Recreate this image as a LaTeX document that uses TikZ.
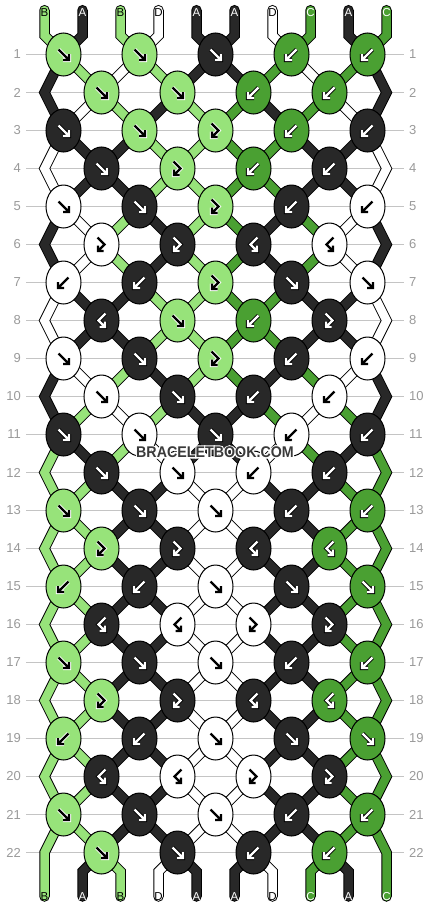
\documentclass[tikz,border=0pt]{standalone}
\usepackage{fontspec}
\setmainfont{Liberation Sans}
\usetikzlibrary{shapes.geometric}
\definecolor{cA}{HTML}{282828}
\definecolor{cB}{HTML}{97E37A}
\definecolor{cC}{HTML}{4AA032}
\definecolor{cD}{HTML}{FFFFFF}
\colorlet{fgA}{white}\colorlet{fgB}{black}\colorlet{fgC}{white}\colorlet{fgD}{black}
\colorlet{hlA}{black}\colorlet{hlB}{white}\colorlet{hlC}{black}\colorlet{hlD}{white}
\colorlet{curfg}{black}\colorlet{curhl}{white}
\definecolor{rowline}{HTML}{C4C4C4}
\definecolor{rownum}{HTML}{9A9A9A}
\definecolor{wmark}{HTML}{3A3A3A}
\pgfdeclarelayer{grid}\pgfdeclarelayer{strings}
\pgfsetlayers{grid,strings,main}
\newcommand\haloword[1]{\rlap{\special{pdf:literal direct 1 Tr 2.6 w 1 1 1 RG}#1\special{pdf:literal direct 0 Tr}}#1}
\tikzset{
  str/.style={draw=black, line width=1pt, double=#1, double distance=8.5pt, line cap=round, line join=miter},
  knot/.style={ellipse, draw=black, line width=1pt, minimum width=35pt, minimum height=43pt, inner sep=0pt},
  ahl/.style={draw=curhl, line width=4.2pt, line join=miter},
  afg/.style={draw=curfg, line width=2.2pt, line join=miter},
  num/.style={text=rownum, font=\fontsize{13}{13}\selectfont, inner sep=0pt},
  lab/.style={font=\fontsize{11.5}{11.5}\selectfont, inner sep=0pt},
  wm/.style={font=\bfseries\fontsize{15.5}{15.5}\selectfont, inner sep=0pt, xscale=0.92},
  rowln/.style={draw=rowline, line width=1pt},
  arF/.pic={
    \draw[ahl] (-5,-5) -- (5.5,5.5) (5.5,-0.5) -- (5.5,5.5) -- (-0.5,5.5);
    \draw[afg] (-5,-5) -- (5.5,5.5) (5.5,-0.5) -- (5.5,5.5) -- (-0.5,5.5);
  },
  arB/.pic={
    \draw[ahl] (5,-5) -- (-5.5,5.5) (-5.5,-0.5) -- (-5.5,5.5) -- (0.5,5.5);
    \draw[afg] (5,-5) -- (-5.5,5.5) (-5.5,-0.5) -- (-5.5,5.5) -- (0.5,5.5);
  },
  arFB/.pic={
    \draw[ahl] (-4,-7) -- (3,0) -- (-3.5,6.5) (-3.5,1) -- (-3.5,6.5) -- (2,6.5);
    \draw[afg] (-4,-7) -- (3,0) -- (-3.5,6.5) (-3.5,1) -- (-3.5,6.5) -- (2,6.5);
  },
  arBF/.pic={
    \draw[ahl] (4,-7) -- (-3,0) -- (3.5,6.5) (3.5,1) -- (3.5,6.5) -- (-2,6.5);
    \draw[afg] (4,-7) -- (-3,0) -- (3.5,6.5) (3.5,1) -- (3.5,6.5) -- (-2,6.5);
  },
}
\begin{document}
\begin{tikzpicture}[x=1pt,y=-1pt]
\useasboundingbox (0,0) rectangle (430,908);
\begin{pgfonlayer}{grid}
\fill[white] (0,0) rectangle (430,908);
\end{pgfonlayer}
% row lines and numbers
\foreach \rw in {1,...,22} {
  \pgfmathsetmacro\yy{54.5+38*(\rw-1)}
  \coordinate (gl-\rw) at (26,\yy);
  \coordinate (gr-\rw) at (404,\yy);
  \begin{pgfonlayer}{grid}
  \draw[rowln] (gl-\rw) -- (gr-\rw);
  \end{pgfonlayer}
  \node[num, anchor=east] (nl-\rw) at (21,\yy) {\rw};
  \node[num, anchor=west] (nr-\rw) at (409,\yy) {\rw};
}
% knots
\foreach \rw/\lst in {
  1/{F/B,F/B,F/A,B/C,B/C},
  2/{F/B,F/B,B/C,B/C},
  3/{F/A,F/B,FB/B,B/C,B/A},
  4/{F/A,FB/B,B/C,B/A},
  5/{F/D,F/A,FB/B,B/A,B/D},
  6/{FB/D,FB/A,BF/A,BF/D},
  7/{B/D,B/A,FB/B,F/A,F/D},
  8/{BF/A,F/B,B/C,FB/A},
  9/{F/D,F/A,FB/B,B/A,B/D},
  10/{F/D,F/A,B/A,B/D},
  11/{F/A,F/D,F/A,B/D,B/A},
  12/{F/A,F/D,B/D,B/A},
  13/{F/B,F/A,F/D,B/A,B/C},
  14/{FB/B,FB/A,BF/A,BF/C},
  15/{B/B,B/A,F/D,F/A,F/C},
  16/{BF/A,BF/D,FB/D,FB/A},
  17/{F/B,F/A,F/D,B/A,B/C},
  18/{FB/B,FB/A,BF/A,BF/C},
  19/{B/B,B/A,F/D,F/A,F/C},
  20/{BF/A,BF/D,FB/D,FB/A},
  21/{F/B,F/A,F/D,B/A,B/C},
  22/{F/B,F/A,B/A,B/C}} {
  \pgfmathsetmacro\yy{54.5+38*(\rw-1)}
  \foreach \ty/\co [count=\kn] in \lst {
    \ifodd\rw\relax
      \pgfmathsetmacro\xx{63.5+76*(\kn-1)}
    \else
      \pgfmathsetmacro\xx{101.5+76*(\kn-1)}
    \fi
    \node[knot, fill=c\co] (k-\rw-\kn) at (\xx,\yy) {};
    \colorlet{curfg}{fg\co}\colorlet{curhl}{hl\co}
    \pic at (k-\rw-\kn.center) {ar\ty};
  }
}
% string segments between knots
\begin{pgfonlayer}{strings}
\foreach \rw/\st in {
  1/{A,B,D,B,A,A,C,D,C,A},
  2/{A,D,B,A,B,C,A,C,D,A},
  3/{D,A,A,B,B,C,C,A,A,D},
  4/{D,A,A,B,B,C,C,A,A,D},
  5/{A,D,B,A,B,C,A,C,D,A},
  6/{A,D,B,A,B,C,A,C,D,A},
  7/{D,A,A,B,B,C,C,A,A,D},
  8/{D,A,A,B,B,C,C,A,A,D},
  9/{A,D,B,A,B,C,A,C,D,A},
  10/{A,B,D,B,A,A,C,D,C,A},
  11/{B,A,B,D,A,A,D,C,A,C},
  12/{B,B,A,A,D,D,A,A,C,C},
  13/{B,B,A,A,D,D,A,A,C,C},
  14/{B,B,A,A,D,D,A,A,C,C},
  15/{B,B,A,A,D,D,A,A,C,C},
  16/{B,B,A,A,D,D,A,A,C,C},
  17/{B,B,A,A,D,D,A,A,C,C},
  18/{B,B,A,A,D,D,A,A,C,C},
  19/{B,B,A,A,D,D,A,A,C,C},
  20/{B,B,A,A,D,D,A,A,C,C},
  21/{B,B,A,A,D,D,A,A,C,C}} {
  \pgfmathtruncatemacro\rn{\rw+1}
  \foreach \co [count=\pp] in \st {
    \ifnum\pp>1\relax\ifnum\pp<10\relax
      \ifodd\rw\relax
        \pgfmathtruncatemacro\ka{floor((\pp-1)/2)+1}
        \pgfmathtruncatemacro\kb{floor(\pp/2)}
      \else
        \pgfmathtruncatemacro\ka{floor(\pp/2)}
        \pgfmathtruncatemacro\kb{floor((\pp-1)/2)+1}
      \fi
      \draw[str=c\co] (k-\rw-\ka.center) -- (k-\rn-\kb.center);
    \fi\fi
  }
}
% edge strings
\foreach \rw/\cl/\cr in {2/A/A,4/D/D,6/A/A,8/D/D,10/A/A,12/B/C,14/B/C,16/B/C,18/B/C,20/B/C} {
  \pgfmathsetmacro\yy{54.5+38*(\rw-1)}
  \pgfmathtruncatemacro\rp{\rw-1}
  \pgfmathtruncatemacro\rn{\rw+1}
  \coordinate (eL-\rw) at (44.5,\yy);
  \coordinate (eR-\rw) at (386.5,\yy);
  \draw[str=c\cl] (k-\rp-1.center) -- (eL-\rw) -- (k-\rn-1.center);
  \draw[str=c\cr] (k-\rp-5.center) -- (eR-\rw) -- (k-\rn-5.center);
}
\end{pgfonlayer}
% top ends
\foreach \co [count=\pp] in {B,A,B,D,A,A,D,C,A,C} {
  \pgfmathsetmacro\xp{44.5+38*(\pp-1)}
  \pgfmathtruncatemacro\kk{floor((\pp-1)/2)+1}
  \coordinate (top-\pp) at (\xp,10.2);
  \coordinate (topb-\pp) at (\xp,35.5);
  \begin{pgfonlayer}{strings}
  \draw[str=c\co] (top-\pp) -- (topb-\pp) -- (k-1-\kk.center);
  \end{pgfonlayer}
  \node[lab, text=fg\co] (tl-\pp) at (\xp,12.8) {\co};
}
% bottom ends
\foreach \co [count=\pp] in {B,A,B,D,A,A,D,C,A,C} {
  \pgfmathsetmacro\xp{44.5+38*(\pp-1)}
  \coordinate (bot-\pp) at (\xp,896.5);
  \ifnum\pp=1\relax
    \coordinate (botb-\pp) at (\xp,852.5);
    \def\from{k-21-1}
  \else\ifnum\pp=10\relax
    \coordinate (botb-\pp) at (\xp,852.5);
    \def\from{k-21-5}
  \else
    \coordinate (botb-\pp) at (\xp,871.5);
    \pgfmathtruncatemacro\kb{floor(\pp/2)}
    \edef\from{k-22-\kb}
  \fi\fi
  \begin{pgfonlayer}{strings}
  \draw[str=c\co] (\from.center) -- (botb-\pp) -- (bot-\pp);
  \end{pgfonlayer}
  \node[lab, text=fg\co] (bl-\pp) at (\xp,896.7) {\co};
}
% watermark
\node[wm, text=wmark] (wm) at (215,452) {\haloword{BRACELETBOOK.COM}};
\end{tikzpicture}
\end{document}
